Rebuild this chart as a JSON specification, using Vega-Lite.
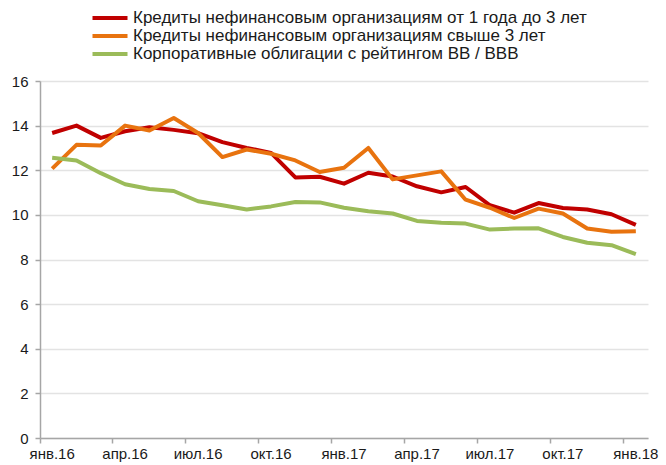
{
  "$schema": "https://vega.github.io/schema/vega-lite/v6.json",
  "autosize": {"type": "none"},
  "width": 608,
  "height": 357,
  "padding": {"left": 40, "top": 81, "right": 18, "bottom": 27},
  "background": "#ffffff",
  "config": {
    "view": {"stroke": null},
    "font": "Liberation Sans",
    "axis": {"labelFont": "Liberation Sans", "labelFontSize": 15, "labelColor": "#1a1a1a", "domainColor": "#a6a6a6", "tickColor": "#a6a6a6", "tickSize": 5, "domainWidth": 1.5, "tickWidth": 1.5}
  },
  "data": {
    "values": [
      {"month": "янв.16", "series": "Кредиты нефинансовым организациям от 1 года до 3 лет", "value": 13.67},
      {"month": "фев.16", "series": "Кредиты нефинансовым организациям от 1 года до 3 лет", "value": 14.0},
      {"month": "мар.16", "series": "Кредиты нефинансовым организациям от 1 года до 3 лет", "value": 13.45},
      {"month": "апр.16", "series": "Кредиты нефинансовым организациям от 1 года до 3 лет", "value": 13.75},
      {"month": "май.16", "series": "Кредиты нефинансовым организациям от 1 года до 3 лет", "value": 13.93},
      {"month": "июн.16", "series": "Кредиты нефинансовым организациям от 1 года до 3 лет", "value": 13.81},
      {"month": "июл.16", "series": "Кредиты нефинансовым организациям от 1 года до 3 лет", "value": 13.66},
      {"month": "авг.16", "series": "Кредиты нефинансовым организациям от 1 года до 3 лет", "value": 13.26},
      {"month": "сен.16", "series": "Кредиты нефинансовым организациям от 1 года до 3 лет", "value": 13.0},
      {"month": "окт.16", "series": "Кредиты нефинансовым организациям от 1 года до 3 лет", "value": 12.78},
      {"month": "ноя.16", "series": "Кредиты нефинансовым организациям от 1 года до 3 лет", "value": 11.68},
      {"month": "дек.16", "series": "Кредиты нефинансовым организациям от 1 года до 3 лет", "value": 11.71},
      {"month": "янв.17", "series": "Кредиты нефинансовым организациям от 1 года до 3 лет", "value": 11.4},
      {"month": "фев.17", "series": "Кредиты нефинансовым организациям от 1 года до 3 лет", "value": 11.89},
      {"month": "мар.17", "series": "Кредиты нефинансовым организациям от 1 года до 3 лет", "value": 11.72},
      {"month": "апр.17", "series": "Кредиты нефинансовым организациям от 1 года до 3 лет", "value": 11.28},
      {"month": "май.17", "series": "Кредиты нефинансовым организациям от 1 года до 3 лет", "value": 11.01},
      {"month": "июн.17", "series": "Кредиты нефинансовым организациям от 1 года до 3 лет", "value": 11.25},
      {"month": "июл.17", "series": "Кредиты нефинансовым организациям от 1 года до 3 лет", "value": 10.43},
      {"month": "авг.17", "series": "Кредиты нефинансовым организациям от 1 года до 3 лет", "value": 10.1},
      {"month": "сен.17", "series": "Кредиты нефинансовым организациям от 1 года до 3 лет", "value": 10.53},
      {"month": "окт.17", "series": "Кредиты нефинансовым организациям от 1 года до 3 лет", "value": 10.31},
      {"month": "ноя.17", "series": "Кредиты нефинансовым организациям от 1 года до 3 лет", "value": 10.24},
      {"month": "дек.17", "series": "Кредиты нефинансовым организациям от 1 года до 3 лет", "value": 10.03},
      {"month": "янв.18", "series": "Кредиты нефинансовым организациям от 1 года до 3 лет", "value": 9.55},
      {"month": "янв.16", "series": "Кредиты нефинансовым организациям свыше 3 лет", "value": 12.07},
      {"month": "фев.16", "series": "Кредиты нефинансовым организациям свыше 3 лет", "value": 13.14},
      {"month": "мар.16", "series": "Кредиты нефинансовым организациям свыше 3 лет", "value": 13.11},
      {"month": "апр.16", "series": "Кредиты нефинансовым организациям свыше 3 лет", "value": 14.0},
      {"month": "май.16", "series": "Кредиты нефинансовым организациям свыше 3 лет", "value": 13.78},
      {"month": "июн.16", "series": "Кредиты нефинансовым организациям свыше 3 лет", "value": 14.34},
      {"month": "июл.16", "series": "Кредиты нефинансовым организациям свыше 3 лет", "value": 13.67},
      {"month": "авг.16", "series": "Кредиты нефинансовым организациям свыше 3 лет", "value": 12.59},
      {"month": "сен.16", "series": "Кредиты нефинансовым организациям свыше 3 лет", "value": 12.93},
      {"month": "окт.16", "series": "Кредиты нефинансовым организациям свыше 3 лет", "value": 12.74},
      {"month": "ноя.16", "series": "Кредиты нефинансовым организациям свыше 3 лет", "value": 12.44},
      {"month": "дек.16", "series": "Кредиты нефинансовым организациям свыше 3 лет", "value": 11.92},
      {"month": "янв.17", "series": "Кредиты нефинансовым организациям свыше 3 лет", "value": 12.11},
      {"month": "фев.17", "series": "Кредиты нефинансовым организациям свыше 3 лет", "value": 13.0},
      {"month": "мар.17", "series": "Кредиты нефинансовым организациям свыше 3 лет", "value": 11.59},
      {"month": "апр.17", "series": "Кредиты нефинансовым организациям свыше 3 лет", "value": 11.77},
      {"month": "май.17", "series": "Кредиты нефинансовым организациям свыше 3 лет", "value": 11.95},
      {"month": "июн.17", "series": "Кредиты нефинансовым организациям свыше 3 лет", "value": 10.68},
      {"month": "июл.17", "series": "Кредиты нефинансовым организациям свыше 3 лет", "value": 10.32},
      {"month": "авг.17", "series": "Кредиты нефинансовым организациям свыше 3 лет", "value": 9.86},
      {"month": "сен.17", "series": "Кредиты нефинансовым организациям свыше 3 лет", "value": 10.28},
      {"month": "окт.17", "series": "Кредиты нефинансовым организациям свыше 3 лет", "value": 10.06},
      {"month": "ноя.17", "series": "Кредиты нефинансовым организациям свыше 3 лет", "value": 9.39},
      {"month": "дек.17", "series": "Кредиты нефинансовым организациям свыше 3 лет", "value": 9.24},
      {"month": "янв.18", "series": "Кредиты нефинансовым организациям свыше 3 лет", "value": 9.27},
      {"month": "янв.16", "series": "Корпоративные облигации с рейтингом BB / BBB", "value": 12.56},
      {"month": "фев.16", "series": "Корпоративные облигации с рейтингом BB / BBB", "value": 12.44},
      {"month": "мар.16", "series": "Корпоративные облигации с рейтингом BB / BBB", "value": 11.87},
      {"month": "апр.16", "series": "Корпоративные облигации с рейтингом BB / BBB", "value": 11.37},
      {"month": "май.16", "series": "Корпоративные облигации с рейтингом BB / BBB", "value": 11.16},
      {"month": "июн.16", "series": "Корпоративные облигации с рейтингом BB / BBB", "value": 11.07},
      {"month": "июл.16", "series": "Корпоративные облигации с рейтингом BB / BBB", "value": 10.61},
      {"month": "авг.16", "series": "Корпоративные облигации с рейтингом BB / BBB", "value": 10.43},
      {"month": "сен.16", "series": "Корпоративные облигации с рейтингом BB / BBB", "value": 10.24},
      {"month": "окт.16", "series": "Корпоративные облигации с рейтингом BB / BBB", "value": 10.38},
      {"month": "ноя.16", "series": "Корпоративные облигации с рейтингом BB / BBB", "value": 10.58},
      {"month": "дек.16", "series": "Корпоративные облигации с рейтингом BB / BBB", "value": 10.56},
      {"month": "янв.17", "series": "Корпоративные облигации с рейтингом BB / BBB", "value": 10.32},
      {"month": "фев.17", "series": "Корпоративные облигации с рейтингом BB / BBB", "value": 10.16},
      {"month": "мар.17", "series": "Корпоративные облигации с рейтингом BB / BBB", "value": 10.06},
      {"month": "апр.17", "series": "Корпоративные облигации с рейтингом BB / BBB", "value": 9.73},
      {"month": "май.17", "series": "Корпоративные облигации с рейтингом BB / BBB", "value": 9.65},
      {"month": "июн.17", "series": "Корпоративные облигации с рейтингом BB / BBB", "value": 9.61},
      {"month": "июл.17", "series": "Корпоративные облигации с рейтингом BB / BBB", "value": 9.34},
      {"month": "авг.17", "series": "Корпоративные облигации с рейтингом BB / BBB", "value": 9.39},
      {"month": "сен.17", "series": "Корпоративные облигации с рейтингом BB / BBB", "value": 9.4},
      {"month": "окт.17", "series": "Корпоративные облигации с рейтингом BB / BBB", "value": 9.01},
      {"month": "ноя.17", "series": "Корпоративные облигации с рейтингом BB / BBB", "value": 8.75},
      {"month": "дек.17", "series": "Корпоративные облигации с рейтингом BB / BBB", "value": 8.64},
      {"month": "янв.18", "series": "Корпоративные облигации с рейтингом BB / BBB", "value": 8.24}
    ]
  },
  "mark": {"type": "line", "strokeWidth": 4, "strokeJoin": "round"},
  "encoding": {
    "x": {
      "field": "month",
      "type": "ordinal",
      "sort": null,
      "bandPosition": 0.5,
      "scale": {"type": "band", "paddingInner": 0, "paddingOuter": 0},
      "axis": {
        "title": null,
        "labelAngle": 0,
        "labelAlign": "center",
        "bandPosition": 0,
        "labelOffset": 0,
        "labelPadding": 3,
        "values": ["янв.16", "апр.16", "июл.16", "окт.16", "янв.17", "апр.17", "июл.17", "окт.17", "янв.18"],
        "grid": false
      }
    },
    "y": {
      "field": "value",
      "type": "quantitative",
      "scale": {"domain": [0, 16], "nice": false},
      "axis": {
        "title": null,
        "values": [0, 2, 4, 6, 8, 10, 12, 14, 16],
        "grid": true,
        "gridColor": "#e3e3e3",
        "gridWidth": 1.5,
        "labelPadding": 7
      }
    },
    "color": {
      "field": "series",
      "type": "nominal",
      "sort": null,
      "scale": {
        "domain": ["Кредиты нефинансовым организациям от 1 года до 3 лет", "Кредиты нефинансовым организациям свыше 3 лет", "Корпоративные облигации с рейтингом BB / BBB"],
        "range": ["#c00000", "#e8730f", "#9bbb59"]
      },
      "legend": {
        "title": null,
        "orient": "none",
        "legendX": 61.5,
        "legendY": -71.5,
        "padding": 0,
        "symbolType": "M-3.5,0H3.5",
        "symbolSize": 100,
        "symbolStrokeWidth": 4,
        "symbolFillColor": "transparent",
        "labelFont": "Liberation Sans",
        "labelFontSize": 17,
        "labelColor": "#1a1a1a",
        "labelLimit": 0,
        "labelOffset": 14.5,
        "rowPadding": 0
      }
    }
  }
}
